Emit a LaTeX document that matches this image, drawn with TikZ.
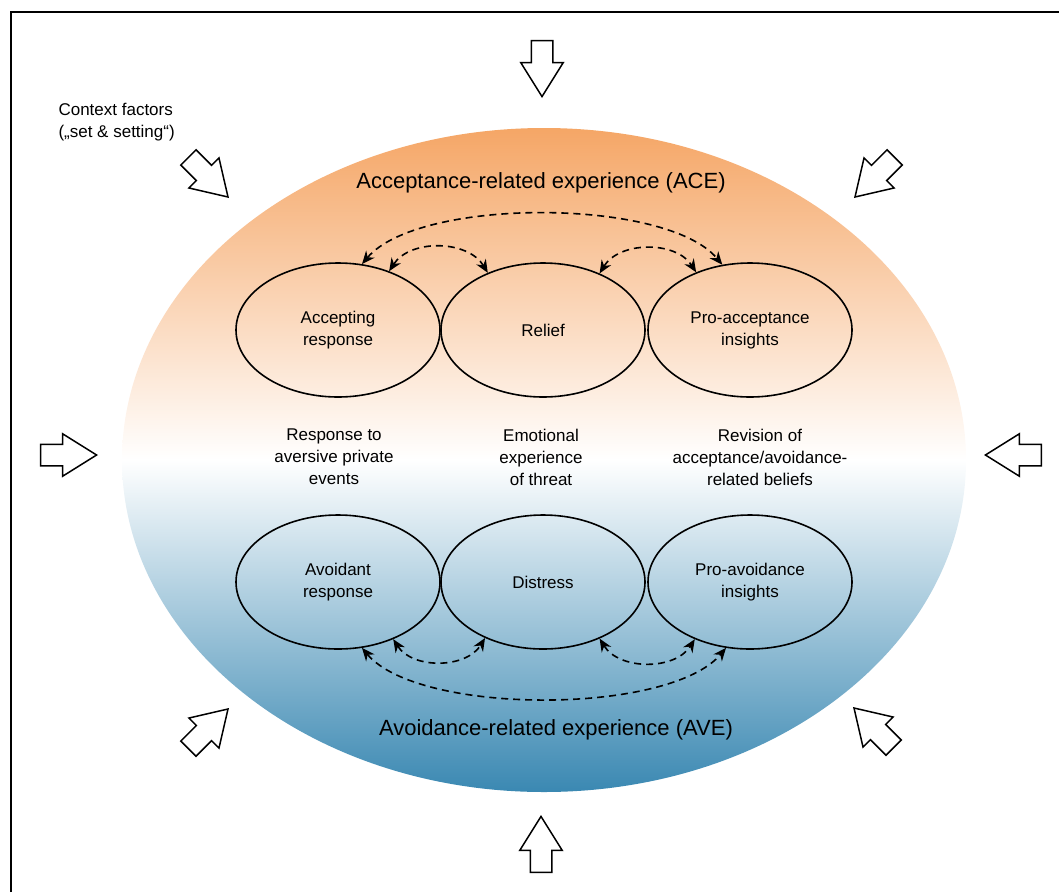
\documentclass[tikz,border=0pt]{standalone}
\usepackage{fontspec}
\setsansfont{Liberation Sans}
\usetikzlibrary{arrows.meta, shapes.geometric, shapes.arrows}

\definecolor{aceorange}{RGB}{245,166,102}
\definecolor{aveblue}{RGB}{58,136,178}

\begin{document}
\begin{tikzpicture}[
  x=1pt, y=-1pt,
  font=\sffamily\fontsize{17}{22}\selectfont,
  field/.style={ellipse, minimum width=844pt, minimum height=664pt, inner sep=0,
    top color=aceorange, bottom color=aveblue, middle color=white},
  state/.style={draw, ellipse, line width=1.6pt, minimum width=204pt, minimum height=134pt, inner sep=0, align=center},
  note/.style={align=center},
  heading/.style={font=\sffamily\fontsize{22}{26}\selectfont},
  context/.style={draw, line width=1.5pt, fill=white, single arrow, single arrow head extend=10.5pt,
    single arrow tip angle=64, minimum height=56pt, inner xsep=0, inner ysep=10pt, anchor=tip},
  both/.style={{Stealth[length=13pt,width=11pt]}-{Stealth[length=13pt,width=11pt]}, line width=1.6pt,
    dash pattern=on 7pt off 5pt}]

  % Page frame (cut off by the page edge on the right and at the bottom)
  \useasboundingbox (0,0) rectangle (1059,892);
  \draw[line width=2pt] (11,892) -- (11,12) -- (1059,12);

  % Shaded field and its two headings
  \node[field] (field) at (544,460) {};
  \node[heading] (ace) at (541,183) {Acceptance-related experience (ACE)};
  \node[heading] (ave) at (556,730) {Avoidance-related experience (AVE)};

  % Acceptance row
  \node[state] (accept) at (338,330) {Accepting\\response};
  \node[state] (relief) at (543,330) {Relief};
  \node[state] (proacc) at (750,330) {Pro-acceptance\\insights};

  % Avoidance row
  \node[state] (avoid) at (338,582) {Avoidant\\response};
  \node[state] (distress) at (543,582) {Distress};
  \node[state] (proavo) at (750,582) {Pro-avoidance\\insights};

  % Dimensions in between
  \node[note] (response) at (334,457) {Response to\\aversive private\\events};
  \node[note] (threat) at (541,457) {Emotional\\experience\\of threat};
  \node[note] (beliefs) at (760,457) {Revision of\\acceptance/avoidance-\\related beliefs};

  % Reciprocal links
  \draw[both] (accept.49) to[bend left=58] (relief.134);
  \draw[both] (relief.45) to[bend left=58] (proacc.133);
  \draw[both] (accept.70) to[bend left=50, looseness=0.62] (proacc.113);
  \draw[both] (avoid.-46) to[bend right=58] (distress.-136);
  \draw[both] (distress.-45) to[bend right=58] (proavo.-134);
  \draw[both] (avoid.-70) to[bend right=50, looseness=0.62] (proavo.-110);

  % Context factors pressing in from all sides
  \node[note, align=left, anchor=north west] (context) at (55,100) {Context factors\\(„set \& setting“)};
  \node[context, rotate=-90] (ctxN) at (542,98) {};
  \node[context, rotate=90] (ctxS) at (541,815) {};
  \node[context] (ctxW) at (98,455) {};
  \node[context, rotate=180] (ctxE) at (984,455) {};
  \node[context, rotate=-45] (ctxNW) at (229,198) {};
  \node[context, rotate=-135] (ctxNE) at (854,198) {};
  \node[context, rotate=45] (ctxSW) at (229,708) {};
  \node[context, rotate=135] (ctxSE) at (853,707) {};

\end{tikzpicture}
\end{document}
